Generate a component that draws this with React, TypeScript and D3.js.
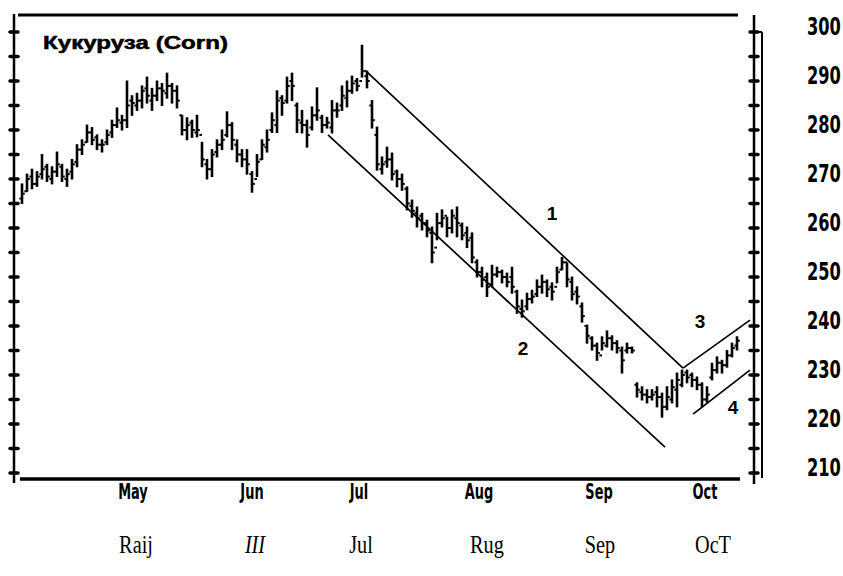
import React from 'react';
import * as d3 from 'd3';

// Daily bars (index = trading day), prices in cents/bushel
const highs = [
  269, 271, 272, 271.5, 275, 273, 272.5, 275.5, 273, 272,
  274, 277, 278, 281, 280.5, 279, 278, 280, 282, 284.5,
  283, 290, 287, 287.5, 289, 290.8, 288.5, 290, 289.5, 291.6,
  289.5, 289, 283, 282.5, 282, 283, 277.5, 274, 276, 278,
  280, 283.7, 281.5, 278, 276, 276, 271.5, 275, 278, 280,
  283.5, 288, 287, 290.8, 291.6, 285.5, 284, 282, 284.7, 288.6,
  283, 282.6, 286, 285.5, 289, 290, 291, 290.5, 297.3, 292,
  286, 280.6, 274.5, 276.5, 275.3, 271.8, 271, 268.4, 265.7, 264.3,
  263, 261.6, 260.2, 263, 263.7, 262.2, 263.7, 264.3, 261, 260.2,
  259, 253.5, 252, 250.8, 252.4, 252, 251.4, 250.8, 252, 247.3,
  245.3, 246.7, 247.3, 249.4, 250.4, 249.4, 248.8, 252, 254, 252.9,
  250, 248, 244.7, 240.2, 237.8, 236.5, 237.8, 239, 238, 237,
  235.7, 236.5, 235.7, 228.4, 227.6, 227, 227, 227.6, 226.3, 227.6,
  229, 230.4, 231, 231, 230.4, 229.6, 228.4, 227.6, 232.4, 233.7,
  233, 235, 236.5, 237.8,
];
const lows = [
  265, 267.5, 268, 268.5, 270, 269.5, 269, 270.5, 269.5, 268.5,
  270, 272.5, 275, 277.5, 277, 276, 275.5, 277, 278.5, 280.5,
  280, 280.5, 283, 284, 284.5, 285.5, 284, 286, 285, 286.5,
  285.5, 284.5, 279, 278, 278.5, 278.6, 272.5, 270, 270.5, 274.5,
  276, 278.6, 276, 273.5, 272.5, 271, 267.3, 270.5, 274, 275.5,
  279.5, 279.5, 283, 285.5, 286, 279.5, 279.4, 276.5, 280, 282,
  279.5, 280.4, 279.4, 282.6, 284, 284.7, 287.5, 288, 290.8, 288.6,
  280.4, 271.8, 271, 272.4, 269.8, 268.4, 267.7, 263.7, 262.2, 260.2,
  259.6, 258.2, 252.9, 257.6, 260.2, 258.2, 259, 258.2, 257.6, 256,
  252.9, 250, 248, 246, 248, 250, 248.8, 248, 246.7, 242.6,
  241.8, 243.3, 244.7, 246, 246.7, 246, 245.3, 248.8, 251.5, 248,
  245.3, 244.5, 240.8, 236.5, 235.1, 233, 235.1, 235.7, 235.1, 234.5,
  230.4, 234.5, 234.5, 225.5, 224.9, 224.3, 224.9, 223.5, 221.4, 222.9,
  224.3, 223.5, 227.6, 228.4, 227.6, 227, 223.5, 224.3, 229, 230.4,
  230.4, 231.6, 233.7, 235.1,
];
const opens = [
  266, 267.5, 270.5, 269, 271, 272.5, 270, 271.5, 272.5, 270,
  271.5, 273.5, 276, 277.5, 279.5, 278.5, 277, 277.5, 279.5, 281,
  281.5, 282, 286, 285, 286, 288.5, 286, 287, 288.5, 287.5,
  289, 288, 283, 280, 281.5, 279.5, 279, 273, 272, 275.5,
  277, 279, 281, 277, 275, 274, 271, 270, 274, 276.5,
  280, 281, 286.5, 286, 290, 285, 281.5, 281, 280.5, 283,
  282.5, 281, 280.5, 284, 285, 286.5, 288, 290, 290, 291,
  285, 279, 272, 273.5, 274, 271.5, 270, 268, 264.5, 263,
  262.5, 261, 259, 256, 261, 262.5, 260, 262, 260.5, 259,
  258, 253, 251, 250, 248.5, 250.5, 251, 250, 250, 247,
  243.5, 244, 245.5, 246.5, 248, 249, 248, 248, 251.5, 253,
  249, 247, 244, 240, 237.5, 236, 234, 236, 237.5, 236.5,
  235, 235, 235.5, 228, 226.5, 226, 225.5, 226.5, 225.5, 223.5,
  225, 227, 228, 230.5, 230, 229, 228, 225, 229.5, 231,
  232.5, 232, 234, 236,
];
const closes = [
  267, 270, 269, 270.5, 272, 270.5, 271.5, 273, 270.5, 271,
  273, 276, 277, 279.5, 278, 277, 277, 279, 281, 282,
  282, 285, 285.5, 286, 288, 287, 287, 288.5, 288, 289,
  288, 286, 280, 281, 280, 280, 274, 272, 275, 277,
  278, 281, 278, 275, 274, 273, 269, 273.5, 277, 278,
  282, 286, 285.5, 289, 289, 282, 281, 279, 283, 284,
  281, 281.5, 284, 284, 287, 288, 289.5, 289, 292, 290,
  282, 273, 273, 274, 271, 270, 269, 265, 263.5, 262,
  261, 259.5, 255, 261, 262, 260, 262.5, 261, 258.5, 257.5,
  254, 251, 249.5, 248, 250.5, 251, 250, 249, 248, 244,
  243, 245.5, 246, 248, 249, 247.5, 247, 251, 253, 249.5,
  246.5, 246, 242, 238, 236, 234.5, 236.5, 237.5, 236.5, 235.5,
  233, 235.5, 235, 227, 226, 225.5, 226, 225.5, 223.5, 225.5,
  227.5, 229, 230, 229.5, 229, 228, 225, 226, 231, 232.5,
  232, 234, 235.5, 237,
];

const minorTicks = [210, 215, 220, 225, 230, 235, 240, 245, 250, 255, 260, 265, 270, 275, 280, 285, 290, 295, 300];
const priceLabels = [300, 290, 280, 270, 260, 250, 240, 230, 220, 210];

const monthLabels = ['May', 'Jun', 'Jul', 'Aug', 'Sep', 'Oct'];
const monthPos = [22.2, 46, 67.4, 91.4, 115.4, 136.6];
const lowerLabels = ['Raij', 'III', 'Jul', 'Rug', 'Sep', 'OcT'];
const lowerPos = [22.8, 46.6, 67.8, 93, 115.6, 138.2];

// trend lines: [index, price] endpoints
const line1 = [[68.6, 292.2], [132.2, 231.4]];
const line2 = [[61.2, 279.0], [128.6, 215.3]];
const line3 = [[132.2, 231.4], [145.6, 241.2]];
const line4 = [[134.2, 222.0], [145.6, 231.0]];
const trendLines = [line1, line2, line3, line4];
const trendLabels = ['1', '2', '3', '4'];
const trendLabelIdx = [106, 100.2, 135.6, 142.2];
const trendLabelPrice = [263.1, 235.5, 241.0, 223.5];

const title = 'Кукуруза (Corn)';

export default function App() {
  const W = 843;
  const H = 576;
  const x = d3.scaleLinear().domain([0, highs.length - 1]).range([22, 737]);
  const y = d3.scaleLinear().domain([210, 300]).range([473, 32]);
  const lineGen = d3.line<number[]>().x((d) => x(d[0])).y((d) => y(d[1]));

  const leftX = 14;
  const rightX = 754;
  const rightX2 = 762;
  const topY = 15;
  const bottomY = 479;

  const boldCond = '"DejaVu Sans Condensed", "DejaVu Sans", sans-serif';

  return (
    <svg
      width={W}
      height={H}
      viewBox={`0 0 ${W} ${H}`}
      style={{ position: 'absolute', left: 0, top: 0, background: '#fff' }}
    >
      <rect x={0} y={0} width={W} height={H} fill="#fff" />

      {/* frame */}
      <line x1={18} x2={738} y1={topY} y2={topY} stroke="#000" strokeWidth={3} />
      <line x1={20} x2={740} y1={bottomY} y2={bottomY} stroke="#000" strokeWidth={3.5} />
      <line x1={leftX} x2={leftX} y1={topY - 1} y2={bottomY + 4} stroke="#000" strokeWidth={2.5} />
      <line x1={rightX} x2={rightX} y1={topY} y2={bottomY + 5} stroke="#000" strokeWidth={2.5} />
      <line x1={rightX2} x2={rightX2} y1={y(300)} y2={bottomY - 1} stroke="#000" strokeWidth={2} />
      <line x1={rightX} x2={rightX2} y1={y(300)} y2={y(300)} stroke="#000" strokeWidth={2} />

      {/* axis ticks */}
      {minorTicks.map((v) => (
        <g key={'t' + v}>
          <line x1={leftX - 4} x2={leftX + 4} y1={y(v)} y2={y(v)} stroke="#000" strokeWidth={3.5} strokeLinecap="round" />
          <line x1={rightX - 4} x2={rightX + 4} y1={y(v)} y2={y(v)} stroke="#000" strokeWidth={3.5} strokeLinecap="round" />
        </g>
      ))}

      {/* price labels */}
      {priceLabels.map((v) => (
        <text
          key={'p' + v}
          transform={`translate(807,${y(v) + 3}) scale(0.95,1.3)`}
          fontFamily={boldCond}
          fontWeight="bold"
          fontSize={19}
          fill="#000"
        >
          {v}
        </text>
      ))}

      {/* month labels */}
      {monthLabels.map((m, i) => (
        <text
          key={'m' + m}
          transform={`translate(${x(monthPos[i])},499) scale(0.8,1.15)`}
          textAnchor="middle"
          fontFamily={boldCond}
          fontWeight="bold"
          fontSize={18}
          fill="#000"
        >
          {m}
        </text>
      ))}

      {/* lower serif labels */}
      {lowerLabels.map((m, i) => (
        <text
          key={'l' + i}
          transform={`translate(${x(lowerPos[i])},553) scale(0.78,1)`}
          textAnchor="middle"
          fontFamily='"Liberation Serif", "Times New Roman", serif'
          fontStyle={m === 'III' ? 'italic' : 'normal'}
          fontSize={26}
          fill="#000"
        >
          {m}
        </text>
      ))}

      {/* title */}
      <text
        x={43}
        y={49}
        fontFamily='"Liberation Sans", Arial, sans-serif'
        fontWeight="bold"
        fontSize={18}
        textLength={185}
        lengthAdjust="spacingAndGlyphs"
        stroke="#000"
        strokeWidth={0.5}
        fill="#000"
      >
        {title}
      </text>

      {/* OHLC bars */}
      {highs.map((h, i) => (
        <g key={'b' + i}>
          <line x1={x(i)} x2={x(i)} y1={y(h) - 0.5} y2={y(lows[i]) + 0.5} stroke="#000" strokeWidth={2.6} />
          <line x1={x(i) - 2.6} x2={x(i)} y1={y(opens[i])} y2={y(opens[i])} stroke="#000" strokeWidth={2} />
          <line x1={x(i)} x2={x(i) + 2.8} y1={y(closes[i])} y2={y(closes[i])} stroke="#000" strokeWidth={2} />
        </g>
      ))}

      {/* trend lines */}
      {trendLines.map((pts, i) => (
        <path key={'tl' + i} d={lineGen(pts) || ''} stroke="#000" strokeWidth={1.7} fill="none" />
      ))}
      {trendLabels.map((t, i) => (
        <text
          key={'tt' + t}
          x={x(trendLabelIdx[i])}
          y={y(trendLabelPrice[i]) + 7}
          textAnchor="middle"
          fontFamily='"Liberation Sans", Arial, sans-serif'
          fontWeight="bold"
          fontSize={19}
          fill="#000"
        >
          {t}
        </text>
      ))}
    </svg>
  );
}
